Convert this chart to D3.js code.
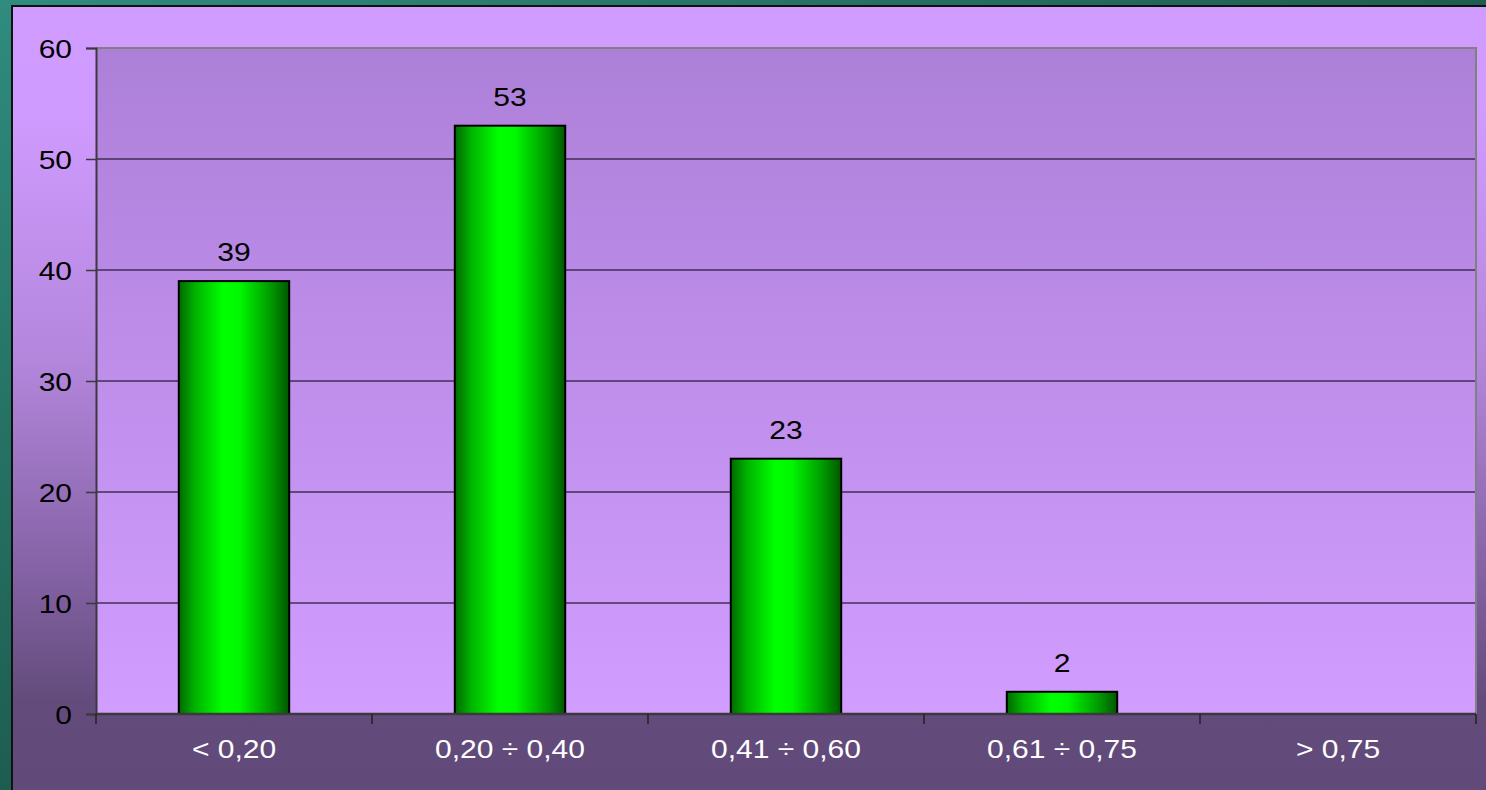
<!DOCTYPE html>
<html>
<head>
<meta charset="utf-8">
<script src="https://cdn.jsdelivr.net/npm/d3@7"></script>
<style>
  html, body { margin: 0; padding: 0; background: #1c4a40; }
  svg { display: block; }
</style>
</head>
<body>
<div id="chart"></div>
<script>
var categories = ['< 0,20', '0,20 ÷ 0,40', '0,41 ÷ 0,60', '0,61 ÷ 0,75', '> 0,75'];
var values = [39, 53, 23, 2, null];
var y_ticks = [0, 10, 20, 30, 40, 50, 60];

var width = 1486, height = 790;
var plot = { left: 96, right: 1476, top: 48, bottom: 714 };
var stretch = 1.2; // text in the picture is drawn a bit wide

var svg = d3.select('#chart').append('svg')
    .attr('width', width)
    .attr('height', height);

var defs = svg.append('defs');

// outer slide background
var bg = defs.append('linearGradient').attr('id', 'slide-bg')
    .attr('x1', 0).attr('y1', 0).attr('x2', 1).attr('y2', 1);
bg.append('stop').attr('offset', '0%').attr('stop-color', '#2f8c7e');
bg.append('stop').attr('offset', '60%').attr('stop-color', '#1a5446');
bg.append('stop').attr('offset', '100%').attr('stop-color', '#0f3128');

// chart area background, light on top, dark at the bottom
var area = defs.append('linearGradient').attr('id', 'area-bg')
    .attr('x1', 0).attr('y1', 0).attr('x2', 0).attr('y2', 1);
area.append('stop').attr('offset', '0%').attr('stop-color', '#d09cff');
area.append('stop').attr('offset', '14%').attr('stop-color', '#cf9bfe');
area.append('stop').attr('offset', '45%').attr('stop-color', '#b386dc');
area.append('stop').attr('offset', '70%').attr('stop-color', '#8764a8');
area.append('stop').attr('offset', '88%').attr('stop-color', '#634c7c');
area.append('stop').attr('offset', '100%').attr('stop-color', '#614a7a');

// plot area, darker on top
var pbg = defs.append('linearGradient').attr('id', 'plot-bg')
    .attr('x1', 0).attr('y1', 0).attr('x2', 0).attr('y2', 1);
pbg.append('stop').attr('offset', '0%').attr('stop-color', '#ad80d8');
pbg.append('stop').attr('offset', '100%').attr('stop-color', '#d19dff');

// bar shading
var bar = defs.append('linearGradient').attr('id', 'bar-fill')
    .attr('x1', 0).attr('y1', 0).attr('x2', 1).attr('y2', 0);
bar.append('stop').attr('offset', '0%').attr('stop-color', '#006800');
bar.append('stop').attr('offset', '15%').attr('stop-color', '#00b400');
bar.append('stop').attr('offset', '40%').attr('stop-color', '#00ff00');
bar.append('stop').attr('offset', '55%').attr('stop-color', '#00f800');
bar.append('stop').attr('offset', '85%').attr('stop-color', '#009400');
bar.append('stop').attr('offset', '100%').attr('stop-color', '#005600');

svg.append('rect')
    .attr('width', width).attr('height', height)
    .attr('fill', 'url(#slide-bg)');

svg.append('rect')
    .attr('x', 12).attr('y', 6)
    .attr('width', width).attr('height', height)
    .attr('fill', 'url(#area-bg)')
    .attr('stroke', '#111')
    .attr('stroke-width', 2);

var x = d3.scaleBand()
    .domain(categories)
    .range([plot.left, plot.right])
    .paddingInner(0.6)
    .paddingOuter(0.3);

var y = d3.scaleLinear()
    .domain([0, 60])
    .range([plot.bottom, plot.top]);

svg.append('rect')
    .attr('x', plot.left).attr('y', plot.top)
    .attr('width', plot.right - plot.left)
    .attr('height', plot.bottom - plot.top)
    .attr('fill', 'url(#plot-bg)');

// gridlines
svg.append('g')
    .selectAll('line')
    .data(y_ticks.filter(function(d) { return d > 0 && d < 60; }))
    .enter()
    .append('line')
        .attr('x1', plot.left).attr('x2', plot.right)
        .attr('y1', function(d) { return y(d); })
        .attr('y2', function(d) { return y(d); })
        .attr('stroke', '#2a1c38')
        .attr('stroke-opacity', 0.85)
        .attr('stroke-width', 1.5);

// gray frame top and right
svg.append('path')
    .attr('d', 'M' + plot.left + ',' + y(60) + 'H' + plot.right + 'V' + plot.bottom)
    .attr('fill', 'none')
    .attr('stroke', '#808080')
    .attr('stroke-width', 2);

var bar_data = categories.map(function(c, i) { return { cat: c, val: values[i] }; })
    .filter(function(d) { return d.val != null; });

// bars
svg.append('g')
    .selectAll('rect')
    .data(bar_data)
    .enter()
    .append('rect')
        .attr('x', function(d) { return x(d.cat); })
        .attr('y', function(d) { return y(d.val); })
        .attr('width', x.bandwidth())
        .attr('height', function(d) { return y(0) - y(d.val); })
        .attr('fill', 'url(#bar-fill)')
        .attr('stroke', '#000')
        .attr('stroke-width', 2);

// value labels
svg.append('g')
    .selectAll('text')
    .data(bar_data)
    .enter()
    .append('text')
        .attr('transform', function(d) {
            return 'translate(' + (x(d.cat) + x.bandwidth() / 2) + ',' + (y(d.val) - 20) + ') scale(' + stretch + ',1)';
        })
        .attr('text-anchor', 'middle')
        .style('font-family', 'Liberation Sans, Arial, sans-serif')
        .style('font-size', '25px')
        .attr('fill', '#000')
        .text(function(d) { return d.val; });

// y axis
var yAxis = svg.append('g')
    .attr('transform', 'translate(' + plot.left + ',0)')
    .call(d3.axisLeft(y).tickValues(y_ticks).tickSize(10).tickPadding(0).tickFormat(d3.format('d')));
yAxis.select('.domain').attr('stroke', '#3a3a3a').attr('stroke-width', 2);
yAxis.selectAll('.tick line').attr('stroke', '#3a3a3a').attr('stroke-width', 1.5);
yAxis.selectAll('.tick text')
    .attr('x', null)
    .attr('dy', null)
    .attr('transform', 'translate(-24,9) scale(' + stretch + ',1)')
    .attr('fill', '#000')
    .style('font-family', 'Liberation Sans, Arial, sans-serif')
    .style('font-size', '25px');

// x axis, ticks sit between the categories
var xAxis = svg.append('g')
    .attr('transform', 'translate(0,' + plot.bottom + ')');
xAxis.append('line')
    .attr('x1', plot.left).attr('x2', plot.right)
    .attr('stroke', '#3a3a3a').attr('stroke-width', 2.5);
var bounds = categories.map(function(c) { return x(c) - x.step() * x.paddingInner() / 2; });
bounds.push(plot.right);
xAxis.selectAll('line.tick')
    .data(bounds)
    .enter()
    .append('line')
        .attr('class', 'tick')
        .attr('x1', function(d) { return d; }).attr('x2', function(d) { return d; })
        .attr('y1', 0).attr('y2', 10)
        .attr('stroke', '#222').attr('stroke-width', 1.5);
xAxis.selectAll('text')
    .data(categories)
    .enter()
    .append('text')
        .attr('transform', function(d) {
            return 'translate(' + (x(d) + x.bandwidth() / 2) + ',44) scale(' + stretch + ',1)';
        })
        .attr('text-anchor', 'middle')
        .attr('fill', '#fff')
        .style('font-family', 'Liberation Sans, Arial, sans-serif')
        .style('font-size', '25px')
        .text(function(d) { return d; });
</script>
</body>
</html>
